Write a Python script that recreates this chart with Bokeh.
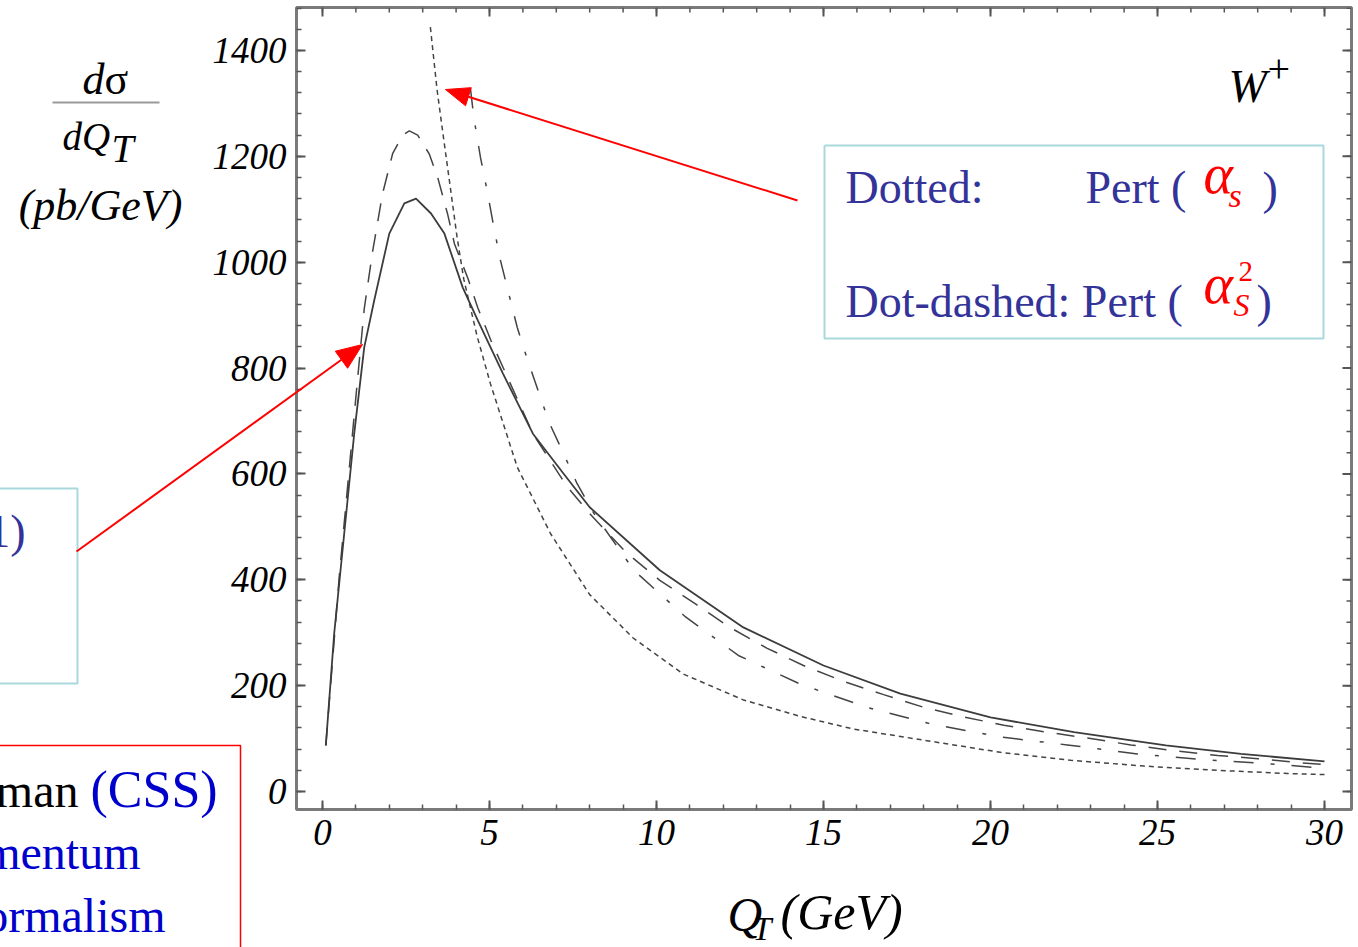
import math

from bokeh.plotting import figure
from bokeh.models import Range1d, FixedTicker
from bokeh.core.properties import value
from bokeh.embed import file_html
from bokeh.resources import INLINE

# W+ transverse-momentum distribution, d(sigma)/dQ_T in pb/GeV
qt_css = [0.1, 0.35, 0.65, 0.95, 1.25, 1.55, 2.0, 2.45, 2.8, 3.25, 3.65, 4.2,
          4.65, 5.4, 6.3, 7.15, 8.0, 10.1, 12.6, 15.0, 17.3, 20.0, 22.5,
          25.25, 27.5, 30.0]
xs_css = [87, 298, 487, 676, 839, 928, 1054, 1111, 1120, 1092, 1054, 952,
          890, 790, 676, 606, 537, 418, 310, 238, 185, 140, 112, 87, 71, 57]

qt_dash = [0.1, 0.5, 1.0, 1.25, 1.5, 1.8, 2.1, 2.4, 2.6, 2.85, 3.2, 3.45,
           3.75, 3.95, 4.35, 4.65, 5.05, 6.3, 7.3, 8.0, 9.1, 10.1, 11.2, 12.2,
           13.3, 14.4, 15.6, 16.8, 18.0, 19.2, 20.4, 21.6, 22.9, 24.2, 25.5,
           26.8, 28.0, 29.3, 30.0]
xs_dash = [87, 405, 745, 912, 1020, 1130, 1205, 1240, 1248, 1240, 1204, 1160,
           1090, 1035, 970, 914, 851, 676, 578, 525, 451, 399, 353, 310,
           271, 238, 208, 183, 159, 141, 125, 113, 101, 88, 77, 68, 62, 54, 51]

qt_pert1 = [3.23, 3.43, 3.63, 3.83, 4.03, 4.23, 4.63, 5.03, 5.83, 6.83, 8.0,
            9.3, 10.8, 12.6, 14.3, 15.9, 18.1, 20.3, 22.4, 24.6, 26.8, 28.9,
            30.0]
xs_pert1 = [1444, 1326, 1232, 1140, 1047, 968, 860, 770, 613, 487, 372,
            290, 222, 173, 142, 118, 96, 74, 59, 48, 40, 34, 32]

qt_pert2 = [4.43, 4.53, 4.73, 4.93, 5.13, 5.33, 5.58, 5.83, 6.13, 6.78, 7.22,
            7.62, 8.12, 9.32, 10.85, 12.45, 14.3, 16.3, 18.25, 20.3, 22.3,
            24.4, 26.4, 28.4, 30.0]
xs_pert2 = [1328, 1274, 1198, 1135, 1066, 1003, 940, 877, 817, 698, 638,
            582, 526, 418, 331, 257, 203, 159, 127, 103, 88, 71, 60, 52, 44]

x_major = [0, 5, 10, 15, 20, 25, 30]
x_minor = list(range(0, 31))
y_major = [0, 200, 400, 600, 800, 1000, 1200, 1400]
y_minor = list(range(-40, 1481, 40))

W, H = 1358, 947
FL, FR, FT, FB = 296, 1351, 7, 809          # frame edges in pixels
XMIN, XMAX = -0.778, 30.808
YMIN, YMAX = -34.0, 1481.2
XPX = (XMAX - XMIN) / (FR - FL)             # data units per pixel
YPX = (YMAX - YMIN) / (FB - FT)


def dx(px):
    return XMIN + (px - FL) * XPX


def dy(py):
    return YMAX - (py - FT) * YPX


p = figure(width=W, height=H, output_backend="svg", toolbar_location=None,
           x_range=Range1d(XMIN, XMAX), y_range=Range1d(YMIN, YMAX),
           min_border_left=FL, min_border_right=W - FR,
           min_border_top=FT, min_border_bottom=H - FB)
p.grid.visible = False
p.background_fill_color = "white"
p.border_fill_color = "white"
p.outline_line_color = "#7a7a7a"
p.outline_line_width = 3

SERIF = "Liberation Serif"
TICK_COLOR = "#555555"
MAJ, MIN = 9, 5                               # tick lengths in pixels

for ax, ticks, minor in ((p.xaxis[0], x_major, x_minor),
                         (p.yaxis[0], y_major, y_minor)):
    ax.ticker = FixedTicker(ticks=ticks, minor_ticks=minor)
    ax.axis_line_color = None
    ax.major_tick_in = MAJ
    ax.major_tick_out = 0
    ax.minor_tick_in = MIN
    ax.minor_tick_out = 0
    ax.major_tick_line_color = TICK_COLOR
    ax.major_tick_line_width = 2
    ax.minor_tick_line_color = TICK_COLOR
    ax.minor_tick_line_width = 1.5
    ax.major_label_text_font = SERIF
    ax.major_label_text_font_style = "italic"
    ax.major_label_text_font_size = "37px"
    ax.major_label_text_color = "black"
    ax.major_label_standoff = 10

# mirrored ticks along the top and right edges of the frame
for ticks, length, width in ((x_minor, MIN, 1.5), (x_major, MAJ, 2)):
    p.segment(x0=ticks, y0=[YMAX] * len(ticks), x1=ticks,
              y1=[YMAX - length * YPX] * len(ticks),
              line_color=TICK_COLOR, line_width=width)
for ticks, length, width in ((y_minor, MIN, 1.5), (y_major, MAJ, 2)):
    p.segment(x0=[XMAX] * len(ticks), y0=ticks,
              x1=[XMAX - length * XPX] * len(ticks), y1=ticks,
              line_color=TICK_COLOR, line_width=width)

# curves
p.line(qt_pert1, xs_pert1, line_color="#444444", line_width=1.5,
       line_dash="5 4")
p.line(qt_pert2, xs_pert2, line_color="#444444", line_width=1.5,
       line_dash="20 17 4 17")
p.line(qt_dash, xs_dash, line_color="#444444", line_width=1.5,
       line_dash="18 13")
p.line(qt_css, xs_css, line_color="#3c3c3c", line_width=1.8)

# svg text lands about a third of an em below the requested baseline
LIFT = 0.35


# page decorations, placed in pixel positions and drawn above the axes
def txt(px, py, text, size, color="black", style="normal", align="left"):
    p.text(x=[dx(px)], y=[dy(py - LIFT * size)], text=[text],
           text_font=value(SERIF), text_font_size=value(f"{size}px"),
           text_font_style=style, text_color=color, text_align=align,
           text_baseline="alphabetic", level="overlay")


def polyline(pts, color, width):
    p.line(x=[dx(a) for a, _ in pts], y=[dy(b) for _, b in pts],
           line_color=color, line_width=width, level="overlay")


def box(l, t, r, b, color, width):
    polyline([(l, t), (r, t), (r, b), (l, b), (l, t)], color, width)


def arrow(sx, sy, tx, ty, length, width, color="red"):
    ux, uy = tx - sx, ty - sy
    n = math.hypot(ux, uy)
    ux, uy = ux / n, uy / n
    bx, by = tx - length * ux, ty - length * uy
    vx, vy = -uy * width / 2, ux * width / 2
    polyline([(sx, sy), (bx, by)], color, 2)
    head = [(tx, ty), (bx + vx, by + vy), (bx - vx, by - vy)]
    p.patch(x=[dx(a) for a, _ in head], y=[dy(b) for _, b in head],
            fill_color=color, line_color=color, line_width=1,
            level="overlay")


# y-axis title: d(sigma)/dQ_T (pb/GeV)
txt(82, 94, "d", 44, style="italic")
txt(104, 94, "σ", 44)
polyline([(52, 102), (159, 102)], "#9a9a9a", 2)
txt(62, 150, "dQ", 39, style="italic")
txt(111, 162, "T", 40, style="italic")
txt(100, 220, "(pb/GeV)", 44, style="italic", align="center")

# x-axis title
txt(727, 931, "Q", 48, style="italic")
txt(752, 940, "T", 34, style="italic")
txt(780, 929, "(GeV)", 50, style="italic")

# process tag
txt(1228, 102, "W", 46, style="italic")
txt(1267, 82, "+", 40)

# legend for the perturbative curves
BLUE = "#333399"
LEGEND_EDGE = "#a9d9dd"
box(824, 145, 1323, 338, LEGEND_EDGE, 2)
txt(845, 203, "Dotted:", 46, color=BLUE)
txt(1085, 203, "Pert (", 46, color=BLUE)
txt(1203, 193, "α", 56, color="red", style="italic")
txt(1228, 207, "s", 34, color="red", style="italic")
txt(1262, 204, ")", 46, color=BLUE)
txt(845, 317, "Dot-dashed: Pert (", 46, color=BLUE)
txt(1203, 303, "α", 56, color="red", style="italic")
txt(1238, 281, "2", 29, color="red")
txt(1233, 316, "S", 32, color="red", style="italic")
txt(1256, 317, ")", 46, color=BLUE)

# side notes
box(-10, 488, 77, 683, LEGEND_EDGE, 2)
txt(25, 547, "(1)", 46, color=BLUE, align="right")
box(-10, 745, 240, 960, "red", 1.5)
txt(78, 807, "Sterman", 48, align="right")
txt(90, 807, "(CSS)", 52, color="#0000cc")
txt(140, 869, "momentum", 48, color="#0000cc", align="right")
txt(165, 932, "formalism", 48, color="#0000cc", align="right")

# pointer arrows
arrow(797, 200, 445, 89, 24, 19)
arrow(76, 551, 362, 344, 26, 21)

open("out.html", "w").write(file_html(p, INLINE))
